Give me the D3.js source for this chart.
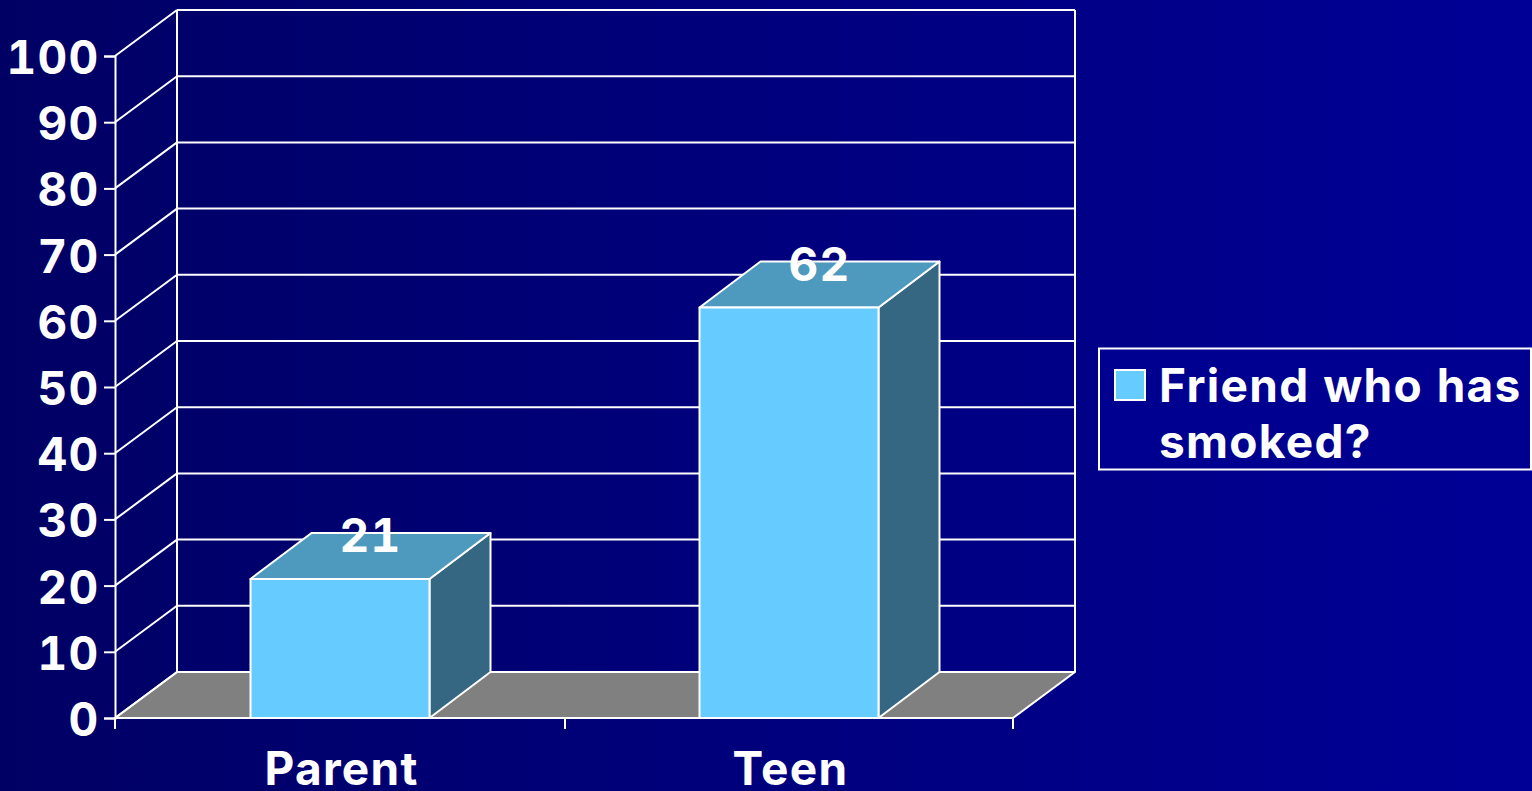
<!DOCTYPE html>
<html><head><meta charset="utf-8">
<script src="https://cdnjs.cloudflare.com/ajax/libs/d3/7.8.5/d3.min.js"></script>
<style>
html,body{margin:0;padding:0;background:#000066;overflow:hidden}
svg{display:block}
text{font-family:Inter,"Liberation Sans",sans-serif;font-weight:700;fill:#fff;font-size:46px;letter-spacing:1.3px;font-variant-numeric:tabular-nums;font-feature-settings:"tnum" 1}
</style></head><body>
<svg id="c" width="1532" height="791"></svg>
<script>
const categories=["Parent","Teen"];
const seriesName=["Friend who has","smoked?"];
const seriesValues=[21,62];
const yTicks=[0,10,20,30,40,50,60,70,80,90,100];

const svg=d3.select("#c");
const defs=svg.append("defs");
const g=defs.append("linearGradient").attr("id","bg").attr("x1",0).attr("x2",1).attr("y1",0).attr("y2",0);
g.append("stop").attr("offset",0).attr("stop-color","#000064");
g.append("stop").attr("offset",1).attr("stop-color","#000096");
svg.append("rect").attr("width",1532).attr("height",791).attr("fill","url(#bg)");

const dx=62,dy=-46,barDx=61;
const y=d3.scaleLinear().domain([0,100]).range([718,56]);
const x=d3.scaleBand().domain(categories).range([115,1013]);
const barW=179;
const barX=c=>x(c)+x.bandwidth()/2-barW/2+.5;
const W="#fff",SW=2;
const line=(a,b,c,d)=>svg.append("line").attr("x1",a).attr("y1",b).attr("x2",c).attr("y2",d).attr("stroke",W).attr("stroke-width",SW);
const poly=(pts,fill)=>svg.append("polygon").attr("points",pts.map(p=>p.join(",")).join(" ")).attr("fill",fill).attr("stroke",W).attr("stroke-width",SW).attr("stroke-linejoin","round");

// floor
poly([[115,y(0)],[1013,y(0)],[1013+dx,y(0)+dy],[115+dx,y(0)+dy]],"#808080");
// walls + gridlines
yTicks.forEach(t=>{
  line(115,y(t),115+dx,y(t)+dy);
  line(115+dx,y(t)+dy,1013+dx,y(t)+dy);
});
line(115+dx,y(0)+dy,115+dx,y(100)+dy);
line(1013+dx,y(0)+dy,1013+dx,y(100)+dy);

// axes
const axisY=d3.axisLeft(y).tickValues(yTicks).tickSize(11).tickPadding(6);
const ay=svg.append("g").attr("transform","translate(115,0)").call(axisY);
ay.select(".domain").attr("stroke",W).attr("stroke-width",SW);
ay.selectAll(".tick line").attr("stroke",W).attr("stroke-width",SW);
ay.selectAll(".tick text").attr("font-family",null).attr("font-size",null).attr("dy",null).attr("y",17.5).attr("x",-15.5).style("text-anchor","end");

line(115,y(0),115,y(0)+11);
line(x("Teen")+1,y(0),x("Teen")+1,y(0)+11);
line(1013,y(0),1013,y(0)+11);
categories.forEach(c=>{
  svg.append("text").attr("x",x(c)+x.bandwidth()/2+2).attr("y",785).attr("text-anchor","middle").text(c);
});

// bars
categories.forEach((c,i)=>{
  const v=seriesValues[i],bx=barX(c),top=y(v),base=y(0);
  poly([[bx+barW,top],[bx+barW+barDx,top+dy],[bx+barW+barDx,base+dy],[bx+barW,base]],"#356783");
  poly([[bx,top],[bx+barDx,top+dy],[bx+barW+barDx,top+dy],[bx+barW,top]],"#4E9ABF");
  poly([[bx,top],[bx+barW,top],[bx+barW,base],[bx,base]],"#66CCFF");
  svg.append("text").attr("x",bx+barW/2+barDx/2).attr("y",top+dy+19).attr("text-anchor","middle").text(v);
});

// legend
svg.append("rect").attr("x",1099).attr("y",348.5).attr("width",432).attr("height",121).attr("fill","#000090").attr("stroke",W).attr("stroke-width",SW);
svg.append("rect").attr("x",1115).attr("y",370).attr("width",30).attr("height",30).attr("fill","#66CCFF").attr("stroke",W).attr("stroke-width",SW);
seriesName.forEach((s,i)=>svg.append("text").attr("x",1159).attr("y",402+i*56).text(s));
</script></body></html>
